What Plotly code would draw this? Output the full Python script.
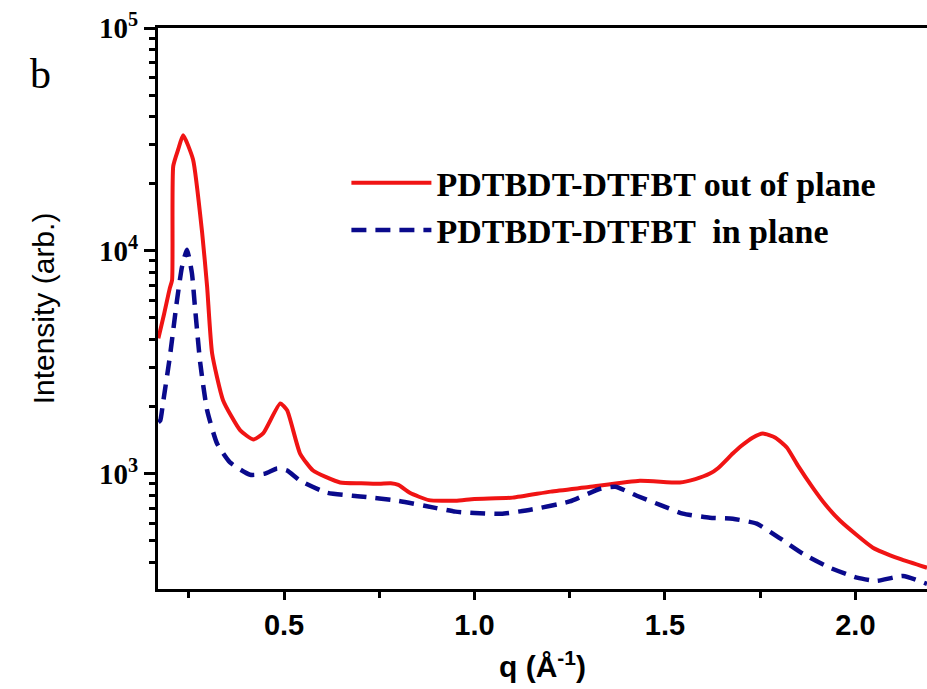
import plotly.graph_objects as go

# ---- data ----
q_out = [0.170, 0.185, 0.200, 0.206, 0.209, 0.222, 0.235, 0.261, 0.285, 0.298, 0.311,
         0.340, 0.385, 0.419, 0.445, 0.490, 0.508, 0.542, 0.576, 0.647, 0.700, 0.750,
         0.780, 0.800, 0.830, 0.880, 0.950, 1.000, 1.100, 1.200, 1.300, 1.434, 1.539,
         1.580, 1.618, 1.640, 1.678, 1.700, 1.730, 1.757, 1.790, 1.820, 1.850, 1.888,
         1.920, 1.960, 2.046, 2.117, 2.188]
i_out = [4050, 5200, 6800, 7400, 24000, 28500, 33000, 25700, 12000, 6890, 3470,
         2130, 1563, 1423, 1514, 2066, 1923, 1230, 1032, 912, 905, 900,
         905, 890, 820, 760, 755, 770, 780, 830, 870, 929, 912,
         945, 1000, 1060, 1230, 1330, 1450, 1514, 1450, 1310, 1080, 865,
         730, 614, 465, 414, 378]

q_in = [0.170, 0.175, 0.182, 0.200, 0.219, 0.232, 0.245, 0.258, 0.266, 0.280, 0.298,
        0.324, 0.358, 0.411, 0.450, 0.482, 0.508, 0.542, 0.613, 0.700, 0.800, 0.900,
        0.950, 1.000, 1.070, 1.150, 1.250, 1.330, 1.370, 1.426, 1.487, 1.547, 1.618,
        1.678, 1.741, 1.800, 1.862, 1.933, 2.004, 2.056, 2.125, 2.188]
i_in = [1700, 1733, 2066, 3333, 6010, 8470, 10100, 7950, 5600, 3125, 1923,
        1365, 1122, 988, 1000, 1055, 1032, 930, 820, 790, 755, 700,
        675, 665, 660, 690, 750, 855, 873, 795, 724, 661, 634,
        627, 596, 515, 437, 378, 341, 330, 347, 320]

name_out = "PDTBDT-DTFBT out of plane"
name_in = "PDTBDT-DTFBT  in plane"

x_ticks = [0.5, 1.0, 1.5, 2.0]
x_ticktext = ["0.5", "1.0", "1.5", "2.0"]
y_ticks = [1e3, 1e4, 1e5]
y_ticktext = ["10<sup>3</sup>", "10<sup>4</sup>", "10<sup>5</sup>"]
y_minor = [m * 10 ** e for e in (2, 3, 4) for m in range(2, 10) if 300 <= m * 10 ** e <= 1e5]

fig = go.Figure()
fig.add_trace(go.Scatter(x=q_out, y=i_out, mode="lines", name=name_out,
                         line=dict(color="#f01414", width=4, shape="spline", smoothing=0.5)))
fig.add_trace(go.Scatter(x=q_in, y=i_in, mode="lines", name=name_in,
                         line=dict(color="#0a0a8c", width=4.5, dash="15px,9px",
                                   shape="spline", smoothing=0.5)))

fig.update_layout(
    width=927, height=689,
    margin=dict(l=158, r=0, t=28, b=100),
    paper_bgcolor="white", plot_bgcolor="white",
    showlegend=True,
    legend=dict(x=0.245, y=0.775, xanchor="left", yanchor="top",
                bgcolor="rgba(0,0,0,0)", itemwidth=80, tracegroupgap=0,
                font=dict(family="Liberation Serif", size=34, color="black", weight="bold")),
    annotations=[dict(text="b", xref="paper", yref="paper",
                      x=-0.153, y=0.918, xanchor="center", yanchor="middle",
                      showarrow=False,
                      font=dict(family="Liberation Serif", size=42, color="black"))],
)

fig.update_xaxes(
    range=[0.169, 2.188], showgrid=False, zeroline=False,
    showline=True, linecolor="black", linewidth=3, mirror=True,
    ticks="outside", ticklen=8, tickwidth=3, tickcolor="black",
    tickvals=x_ticks, ticktext=["<b>%s</b>" % t for t in x_ticktext],
    tickfont=dict(family="Liberation Sans", size=29, color="black"),
    minor=dict(ticks="outside", ticklen=6, tickwidth=3, tickcolor="black",
               dtick=0.25, tick0=0, showgrid=False),
    title=dict(text="<b>q (Å<sup>-1</sup>)</b>", standoff=17,
               font=dict(family="Liberation Sans", size=30, color="black")),
)
fig.update_yaxes(
    type="log", range=[2.482, 5.0], showgrid=False, zeroline=False,
    showline=True, linecolor="black", linewidth=3, mirror=False,
    ticks="outside", ticklen=11, tickwidth=3, tickcolor="black",
    tickvals=y_ticks, ticktext=["<b>%s</b>" % t for t in y_ticktext],
    tickfont=dict(family="Liberation Serif", size=29, color="black"),
    minor=dict(ticks="outside", ticklen=6, tickwidth=2.5, tickcolor="black",
               tickvals=y_minor, showgrid=False),
    title=dict(text="Intensity (arb.)", standoff=36,
               font=dict(family="Liberation Sans", size=30, color="black")),
)

fig.write_html("out.html")
